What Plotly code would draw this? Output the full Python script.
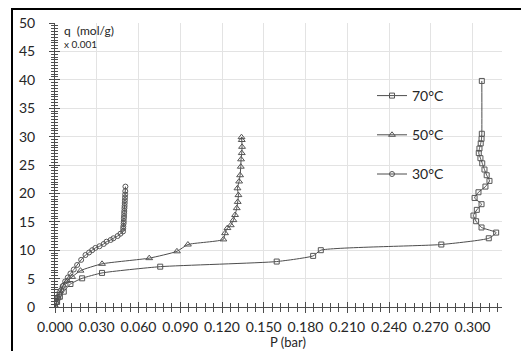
import plotly.graph_objects as go

# ---- data ----
P70 = [0.0000, 0.0015, 0.0035, 0.0063, 0.0111, 0.0195, 0.0338, 0.0756, 0.1593, 0.1855, 0.1910,
       0.2776, 0.3117, 0.3170, 0.3065, 0.3026, 0.3007, 0.3031, 0.3065, 0.3015, 0.3043, 0.3093,
       0.3122, 0.3102, 0.3086, 0.3070, 0.3057, 0.3045, 0.3050, 0.3059, 0.3065, 0.3067, 0.3067]
q70 = [0.0, 0.9, 1.8, 2.7, 4.05, 5.05, 6.0, 7.1, 8.0, 9.0, 10.0,
       11.0, 12.1, 13.1, 14.0, 15.1, 16.1, 17.1, 18.1, 19.2, 20.2, 21.2,
       22.2, 23.2, 24.2, 25.3, 26.2, 27.1, 27.9, 28.8, 29.6, 30.5, 39.8]

P50 = [0.0000, 0.0008, 0.0020, 0.0035, 0.0060, 0.0088, 0.0123, 0.0183, 0.0338, 0.0677, 0.0876,
       0.0955, 0.1210, 0.1222, 0.1239, 0.1263, 0.1282, 0.1294, 0.1306, 0.1313, 0.1318, 0.1311,
       0.1323, 0.1330, 0.1335, 0.1337, 0.1342, 0.1344, 0.1342, 0.1340]
q50 = [0.0, 0.8, 1.8, 2.8, 3.8, 4.6, 5.3, 6.4, 7.6, 8.6, 9.8,
       11.0, 11.9, 13.0, 13.9, 14.4, 15.3, 16.2, 17.4, 18.5, 19.7, 20.9,
       22.1, 23.2, 24.7, 26.0, 27.1, 28.2, 29.4, 29.9]

P30 = [0.0003, 0.0013, 0.0023, 0.0032, 0.0044, 0.0056, 0.0073, 0.0092, 0.0111, 0.0135, 0.0159,
       0.0188, 0.0219, 0.0245, 0.0267, 0.0290, 0.0320, 0.0350, 0.0370, 0.0400, 0.0420, 0.0450,
       0.0470, 0.0489, 0.0490, 0.0491, 0.0493, 0.0494, 0.0495, 0.0496, 0.0497, 0.0498, 0.0499,
       0.0500, 0.0501, 0.0502, 0.0503, 0.0504, 0.0505, 0.0506]
q30 = [0.05, 0.8, 1.5, 2.2, 3.0, 3.7, 4.5, 5.2, 5.9, 6.6, 7.4,
       8.3, 9.15, 9.6, 10.0, 10.4, 10.7, 11.1, 11.5, 11.8, 12.1, 12.5,
       12.9, 13.3, 13.8, 14.2, 14.7, 15.1, 15.6, 16.0, 16.5, 16.9, 17.4,
       17.8, 18.3, 18.8, 19.3, 19.8, 20.4, 21.2]

names = ["70°C", "50°C", "30°C"]
symbols = ["square-open", "triangle-up-open", "circle-open"]
series = [(P70, q70), (P50, q50), (P30, q30)]

X_TICK_LABELS_FMT = ".3f"
LINE_C = "#4d4d4d"
TXT_C = "#262626"
FONT = "Lato"

fig = go.Figure()
for (px_, qy), nm, sym in zip(series, names, symbols):
    fig.add_trace(go.Scatter(
        x=px_, y=qy, name=nm, legendgroup=nm, mode="lines+markers",
        line=dict(color=LINE_C, width=1, shape="spline", smoothing=0.5),
        marker=dict(symbol=sym, size=5 if sym != "triangle-up-open" else 6,
                    color="#555555", line=dict(width=1, color="#555555")),
    ))

# empty trace on overlay axes (for crossing tick marks)
fig.add_trace(go.Scatter(x=[], y=[], xaxis="x2", yaxis="y2", showlegend=False))

XR = [0, 0.3212]
YR = [0, 50]
W, H = 521, 351
L, R, T, B = 55, 19, 23, 44
pw = W - L - R
ph = H - T - B

def xp(px):
    return (px - L) / pw

def yp(py):
    return (H - B - py) / ph

fig.update_layout(
    width=W, height=H,
    margin=dict(l=L, r=R, t=T, b=B, pad=0),
    paper_bgcolor="white", plot_bgcolor="white",
    font=dict(family=FONT, color=TXT_C),
    showlegend=True,
    legend=dict(x=xp(372), y=yp(80), xanchor="left", yanchor="top",
                bgcolor="rgba(0,0,0,0)", font=dict(family=FONT, size=14, color=TXT_C),
                tracegroupgap=18, itemwidth=30),
    xaxis=dict(range=XR, tickmode="linear", tick0=0, dtick=0.03, tickformat=X_TICK_LABELS_FMT,
               showgrid=True, gridcolor="#e3e3e3", gridwidth=1, zeroline=False,
               showline=True, linecolor=LINE_C, linewidth=1,
               ticks="outside", ticklen=5, tickcolor=LINE_C, tickwidth=1,
               minor=dict(dtick=0.006, ticks="outside", ticklen=4, tickcolor=LINE_C, showgrid=False),
               tickfont=dict(family=FONT, size=14, color=TXT_C), ticklabelstandoff=2),
    yaxis=dict(range=YR, tickmode="linear", tick0=0, dtick=5,
               showgrid=True, gridcolor="#e3e3e3", gridwidth=1, zeroline=False,
               showline=True, linecolor=LINE_C, linewidth=1,
               ticks="outside", ticklen=5, tickcolor=LINE_C, tickwidth=1,
               minor=dict(dtick=0.5, ticks="outside", ticklen=3, tickcolor=LINE_C, showgrid=False),
               tickfont=dict(family=FONT, size=14, color=TXT_C), ticklabelstandoff=11),
    xaxis2=dict(range=XR, overlaying="x", anchor="y2", tickmode="linear", tick0=0, dtick=0.03,
                showgrid=False, zeroline=False, showline=False, showticklabels=False,
                ticks="inside", ticklen=5, tickcolor=LINE_C, tickwidth=1,
                minor=dict(dtick=0.006, ticks="inside", ticklen=4, tickcolor=LINE_C, showgrid=False)),
    yaxis2=dict(range=YR, overlaying="y", anchor="x2", tickmode="linear", tick0=0, dtick=5,
                showgrid=False, zeroline=False, showline=False, showticklabels=False,
                ticks="inside", ticklen=5, tickcolor=LINE_C, tickwidth=1,
                minor=dict(dtick=0.5, ticks="inside", ticklen=3, tickcolor=LINE_C, showgrid=False)),
)

fig.add_annotation(text="q  (mol/g)", xref="paper", yref="paper", x=xp(62), y=yp(31),
                   xanchor="left", yanchor="middle", showarrow=False,
                   font=dict(family=FONT, size=12, color=TXT_C))
fig.add_annotation(text="x 0.001", xref="paper", yref="paper", x=xp(62), y=yp(44),
                   xanchor="left", yanchor="middle", showarrow=False,
                   font=dict(family=FONT, size=10, color=TXT_C))
fig.add_annotation(text="P (bar)", xref="paper", yref="paper", x=xp(288), y=yp(342),
                   xanchor="center", yanchor="middle", showarrow=False,
                   font=dict(family=FONT, size=13, color=TXT_C))

# outer frame (left and top edges)
fig.add_shape(type="line", xref="paper", yref="paper", x0=xp(12), x1=xp(12), y0=yp(8), y1=yp(360),
              line=dict(color="black", width=2))
fig.add_shape(type="line", xref="paper", yref="paper", x0=xp(11), x1=xp(530), y0=yp(9), y1=yp(9),
              line=dict(color="black", width=2))

fig.write_html("out.html")
